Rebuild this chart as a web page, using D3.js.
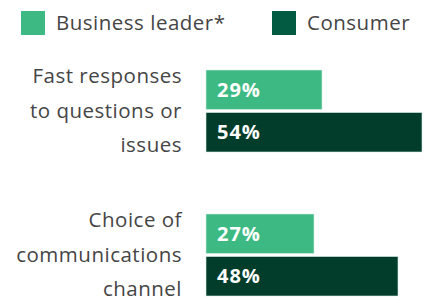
<!DOCTYPE html>
<meta charset="utf-8">
<style>
body {
  margin: 0;
  background: #fff;
}
text {
  font-family: "Open Sans", Lato, sans-serif;
}
.label, .legendText {
  fill: #454545;
  font-size: 20.5px;
  letter-spacing: 0.5px;
}
.value {
  fill: #fff;
  font-size: 20px;
  font-weight: bold;
  letter-spacing: 1px;
}
</style>
<body>
<script src="https://cdnjs.cloudflare.com/ajax/libs/d3/7.8.5/d3.min.js"></script>
<script>

var width = 430,
    height = 300;

var categories = ["Fast responses to questions or issues", "Choice of communications channel"];
var categoryLines = [["Fast responses", "to questions or", "issues"], ["Choice of", "communications", "channel"]];
var series = ["Business leader*", "Consumer"];
var businessLeader = [29, 27];
var consumer = [54, 48];

var barColors = ["#3dba84", "#023d2c"];
var legendColors = ["#3dba84", "#035c41"];

var data = categories.map(function(c, i) {
  return {category: c, lines: categoryLines[i], values: [businessLeader[i], consumer[i]]};
});

var svg = d3.select("body").append("svg")
    .attr("width", width)
    .attr("height", height);

var x = d3.scaleLinear()
    .domain([0, 100])
    .range([206, 606]);

var y0 = d3.scaleBand()
    .domain(categories)
    .range([70, 296])
    .paddingInner(62 / 144)
    .paddingOuter(0);

var y1 = d3.scaleBand()
    .domain(series)
    .range([0, y0.bandwidth()])
    .paddingInner(3 / 42);

// legend
var legend = svg.selectAll(".legend")
    .data(series)
  .enter().append("g")
    .attr("class", "legend")
    .attr("transform", function(d, i) { return "translate(" + [21, 272][i] + ",11)"; });

legend.append("rect")
    .attr("width", 24)
    .attr("height", 24)
    .attr("fill", function(d, i) { return legendColors[i]; });

legend.append("text")
    .attr("class", "legendText")
    .attr("x", 35)
    .attr("y", 19)
    .text(function(d) { return d; });

// groups
var groups = svg.selectAll(".group")
    .data(data)
  .enter().append("g")
    .attr("class", "group")
    .attr("transform", function(d) { return "translate(0," + y0(d.category) + ")"; });

groups.append("text")
    .attr("class", "label")
    .attr("text-anchor", "end")
    .selectAll("tspan")
    .data(function(d) { return d.lines; })
  .enter().append("tspan")
    .attr("x", 182)
    .attr("y", function(d, i) { return y0.bandwidth() / 2 + 6.5 + (i - 1) * 34.5; })
    .text(function(d) { return d; });

var bars = groups.selectAll(".bar")
    .data(function(d) { return d.values.map(function(v, i) { return {key: series[i], value: v, i: i}; }); })
  .enter().append("g")
    .attr("class", "bar");

bars.append("rect")
    .attr("x", x(0))
    .attr("y", function(d) { return y1(d.key); })
    .attr("width", function(d) { return x(d.value) - x(0); })
    .attr("height", y1.bandwidth())
    .attr("fill", function(d) { return barColors[d.i]; })
    .attr("stroke", "#d7eee3")
    .attr("stroke-width", 0.6);

bars.append("text")
    .attr("class", "value")
    .attr("x", x(0) + 11)
    .attr("y", function(d) { return y1(d.key) + y1.bandwidth() / 2 + 7; })
    .text(function(d) { return d.value + "%"; });

</script>
